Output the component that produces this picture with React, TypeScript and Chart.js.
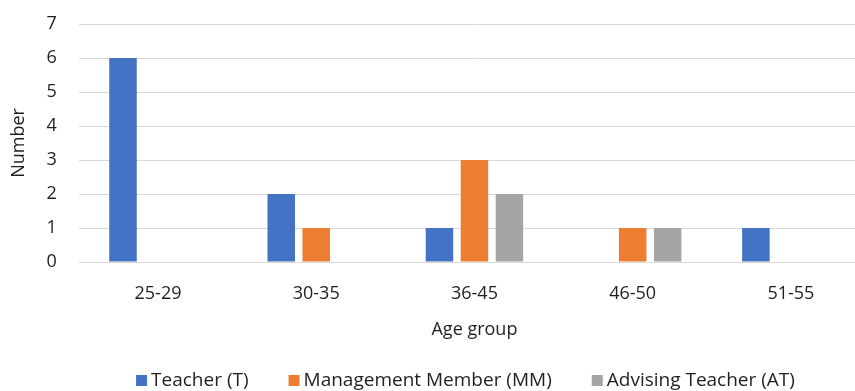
import { useEffect, useRef } from "react";
import { Chart, registerables } from "chart.js";

Chart.register(...registerables);

// Respondents per age group, by role
const ageGroups = ["25-29", "30-35", "36-45", "46-50", "51-55"];
const teacherCounts = [6, 2, 1, 0, 1];
const managementCounts = [0, 1, 3, 1, 0];
const advisingCounts = [0, 0, 2, 1, 0];
const yTickValues = [0, 1, 2, 3, 4, 5, 6, 7];

const seriesNames = ["Teacher (T)", "Management Member (MM)", "Advising Teacher (AT)"];
const seriesColors = ["#4472C4", "#ED7D31", "#A5A5A5"];

const FONT = "'Open Sans', 'DejaVu Sans', sans-serif";
const TEXT_COLOR = "#1f1f1f";
const GRID_COLOR = "#d9d9d9";

// Legend row under the axis title: small square swatch followed by the series name
const bottomLegend = {
  id: "bottomLegend",
  afterDraw(chart: any) {
    const ctx: CanvasRenderingContext2D = chart.ctx;
    ctx.save();
    ctx.font = `19px ${FONT}`;
    const box = 11;
    const gap = 4;
    const spacing = 40;
    const items = chart.data.datasets.map((ds: any) => ({
      label: ds.label as string,
      color: ds.backgroundColor as string,
      w: ctx.measureText(ds.label).width,
    }));
    const total =
      items.reduce((s: number, it: any) => s + box + gap + it.w, 0) +
      spacing * (items.length - 1);
    let x = 465.5 - total / 2;
    const baseline = 386;
    ctx.textBaseline = "alphabetic";
    ctx.textAlign = "left";
    for (const it of items) {
      ctx.fillStyle = it.color;
      ctx.fillRect(x, baseline - box, box, box);
      ctx.fillStyle = TEXT_COLOR;
      ctx.fillText(it.label, x + box + gap, baseline);
      x += box + gap + it.w + spacing;
    }
    ctx.restore();
  },
};

export default function App() {
  const canvasRef = useRef<HTMLCanvasElement | null>(null);

  useEffect(() => {
    if (!canvasRef.current) return;
    const values = [teacherCounts, managementCounts, advisingCounts];
    const chart = new Chart(canvasRef.current, {
      type: "bar",
      data: {
        labels: ageGroups,
        datasets: seriesNames.map((name, i) => ({
          label: name,
          data: values[i],
          backgroundColor: seriesColors[i],
          borderWidth: 0,
          categoryPercentage: 0.6635,
          barPercentage: 0.786,
        })),
      },
      options: {
        responsive: false,
        animation: false,
        devicePixelRatio: 1,
        layout: { padding: { top: 24, right: 0, bottom: 50.7, left: 0 } },
        plugins: {
          legend: { display: false },
          tooltip: { enabled: false },
        },
        scales: {
          x: {
            grid: { display: false, drawTicks: false },
            border: { display: false },
            ticks: {
              padding: 21.5,
              color: TEXT_COLOR,
              font: { family: FONT, size: 18 },
            },
            title: {
              display: true,
              text: "Age group",
              color: TEXT_COLOR,
              font: { family: FONT, size: 18 },
              padding: { top: -7.9, bottom: 0 },
            },
          },
          y: {
            min: 0,
            max: 7,
            afterBuildTicks: (axis: any) => {
              axis.ticks = yTickValues.map((v) => ({ value: v }));
            },
            grid: {
              color: GRID_COLOR,
              lineWidth: 1,
              drawTicks: true,
              tickLength: 22,
              tickColor: "rgba(0,0,0,0)",
            },
            border: { display: false },
            ticks: {
              padding: 0,
              color: TEXT_COLOR,
              font: { family: FONT, size: 18 },
            },
            title: {
              display: true,
              text: "Number",
              color: TEXT_COLOR,
              font: { family: FONT, size: 18 },
              padding: { top: 8, bottom: 17 },
            },
          },
        },
      },
      plugins: [bottomLegend],
    });
    return () => chart.destroy();
  }, []);

  return (
    <div
      style={{
        position: "fixed",
        left: 0,
        top: 0,
        width: 855,
        height: 391,
        overflow: "hidden",
        background: "#ffffff",
      }}
    >
      <canvas ref={canvasRef} width={870} height={391} style={{ display: "block" }} />
    </div>
  );
}
